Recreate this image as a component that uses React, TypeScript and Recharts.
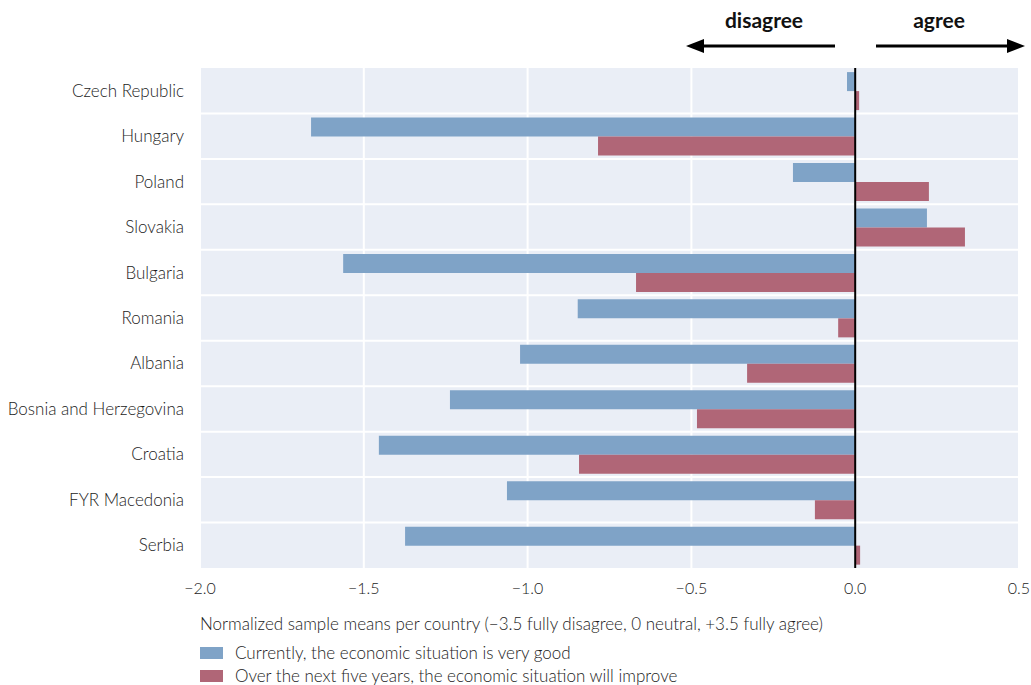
import React from 'react'
import {
  BarChart,
  Bar,
  XAxis,
  YAxis,
  CartesianGrid,
  ReferenceLine,
} from 'recharts'

const COUNTRIES = [
  'Czech Republic',
  'Hungary',
  'Poland',
  'Slovakia',
  'Bulgaria',
  'Romania',
  'Albania',
  'Bosnia and Herzegovina',
  'Croatia',
  'FYR Macedonia',
  'Serbia',
]

// currently, the economic situation is very good
const CURRENT = [-0.025, -1.661, -0.19, 0.219, -1.563, -0.847, -1.023, -1.237, -1.454, -1.063, -1.374]
// over the next five years, the economic situation will improve
const FUTURE = [0.012, -0.785, 0.225, 0.335, -0.669, -0.052, -0.33, -0.483, -0.843, -0.123, 0.015]

const X_TICKS = [-2.0, -1.5, -1.0, -0.5, 0.0, 0.5]

const SERIES_LABELS = {
  current: 'Currently, the economic situation is very good',
  future: 'Over the next five years, the economic situation will improve',
}

const COLORS = {
  current: '#7fa3c7',
  future: '#b06677',
  background: '#eaeef6',
  text: '#1c1c1c',
}

const FONT = 'Lato, "Open Sans", sans-serif'

const data = COUNTRIES.map((country, i) => ({
  country,
  current: CURRENT[i],
  future: FUTURE[i],
}))

const formatTick = (v: number) => v.toFixed(1).replace('-', '\u2212')

function LegendBox() {
  const items = [
    { key: 'current', color: COLORS.current },
    { key: 'future', color: COLORS.future },
  ] as const
  return (
    <div
      style={{
        position: 'absolute',
        left: 200,
        top: 641,
        fontFamily: FONT,
        fontWeight: 300,
        fontSize: 17,
        color: COLORS.text,
      }}
    >
      {items.map((item) => (
        <div key={item.key} style={{ display: 'flex', alignItems: 'center', height: 23 }}>
          <span
            style={{
              display: 'inline-block',
              width: 23,
              height: 12,
              background: item.color,
              marginRight: 12,
            }}
          />
          <span>{SERIES_LABELS[item.key]}</span>
        </div>
      ))}
    </div>
  )
}

function Arrows() {
  return (
    <svg
      width={1031}
      height={68}
      style={{ position: 'absolute', left: 0, top: 0, pointerEvents: 'none' }}
    >
      <text
        x={764}
        y={28}
        textAnchor="middle"
        fontFamily={FONT}
        fontWeight={700}
        fontSize={21}
        fill="#111"
      >
        disagree
      </text>
      <text
        x={939}
        y={28}
        textAnchor="middle"
        fontFamily={FONT}
        fontWeight={700}
        fontSize={21}
        fill="#111"
      >
        agree
      </text>
      <line x1={835} y1={46} x2={698} y2={46} stroke="#000" strokeWidth={3} />
      <polygon points="686,46 704,39 704,53" fill="#000" />
      <line x1={876} y1={46} x2={1013} y2={46} stroke="#000" strokeWidth={3} />
      <polygon points="1025,46 1007,39 1007,53" fill="#000" />
    </svg>
  )
}

export default function App() {
  return (
    <div
      style={{
        position: 'absolute',
        left: 0,
        top: 0,
        width: 1031,
        height: 685,
        background: '#fff',
      }}
    >
      <BarChart
        width={1031}
        height={685}
        data={data}
        layout="vertical"
        margin={{ top: 68, right: 12, left: 0, bottom: 55 }}
        barCategoryGap="9%"
        barGap={0}
      >
        <CartesianGrid
          stroke="#ffffff"
          strokeWidth={2}
          fill={COLORS.background}
          fillOpacity={1}
          horizontalCoordinatesGenerator={({ offset }: any) =>
            COUNTRIES.slice(1).map(
              (_, i) => offset.top + (offset.height * (i + 1)) / COUNTRIES.length
            )
          }
        />
        <XAxis
          type="number"
          domain={[-2, 0.5]}
          ticks={X_TICKS}
          tickFormatter={formatTick}
          axisLine={false}
          tickLine={false}
          tickSize={0}
          tickMargin={15}
          height={62}
          tick={{ fill: COLORS.text, fontSize: 16, fontFamily: FONT, fontWeight: 300 }}
          label={{
            value:
              'Normalized sample means per country (\u22123.5 fully disagree, 0 neutral, +3.5 fully agree)',
            position: 'insideBottomLeft',
            offset: 0,
            fill: COLORS.text,
            fontSize: 17,
            fontFamily: FONT,
            fontWeight: 300,
          }}
        />
        <YAxis
          type="category"
          dataKey="country"
          width={200}
          axisLine={false}
          tickLine={false}
          tickSize={0}
          tickMargin={16}
          interval={0}
          tick={{ fill: COLORS.text, fontSize: 17, fontFamily: FONT, fontWeight: 300 }}
        />
        <Bar dataKey="current" fill={COLORS.current} isAnimationActive={false} />
        <Bar dataKey="future" fill={COLORS.future} isAnimationActive={false} />
        <ReferenceLine x={0} stroke="#000" strokeWidth={2} />
      </BarChart>
      <LegendBox />
      <Arrows />
    </div>
  )
}
